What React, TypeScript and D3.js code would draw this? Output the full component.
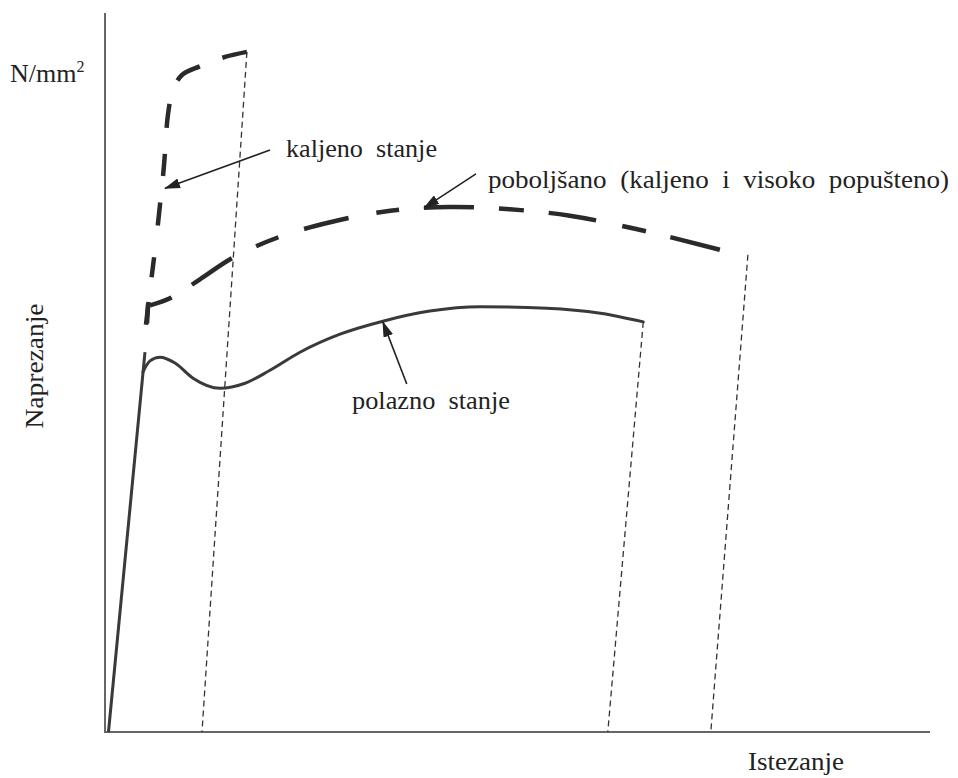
import React from "react";
import * as d3 from "d3";

// strain (0-100 relative units) and stress (0-100 relative units)
type Pt = [number, number];

const polaznoElastic: Pt[] = [[0.3, 0], [4.73, 52.6]];
const polaznoCurve: Pt[] = [
  [4.49, 49.9], [5.34, 51.4], [6.55, 51.9], [8.37, 51.1], [10.56, 49.0],
  [13.83, 47.6], [16.87, 48.3], [19.9, 50.1], [23.54, 52.6], [28.4, 55.1],
  [33.6, 56.9], [39.3, 58.3], [45.4, 58.9], [53.5, 58.7], [60.0, 58.0], [65.2, 56.8],
];
const polaznoFracture: Pt[] = [[65.2, 56.8], [60.9, 0]];

const kaljenoCurve: Pt[] = [
  [4.85, 56.4], [5.34, 61.2], [5.95, 66.8], [6.55, 73.0], [7.04, 78.5],
  [7.52, 85.5], [8.13, 88.9], [9.22, 91.0], [11.4, 92.2], [14.44, 93.5], [17.1, 94.2],
];
const kaljenoFracture: Pt[] = [[17.1, 94.2], [11.65, 0]];

const poboljsanoCurve: Pt[] = [
  [4.98, 56.6], [5.1, 59.1], [5.34, 59.1], [8.0, 60.2], [11.4, 62.7], [15.4, 65.7],
  [21.1, 68.6], [27.2, 70.6], [34.5, 72.2], [41.7, 72.7], [49.0, 72.4],
  [56.3, 71.5], [64.2, 69.7], [74.5, 66.8],
];
const poboljsanoFracture: Pt[] = [[77.9, 66.1], [73.4, 0]];

const arrowKaljeno: Pt[] = [[19.9, 80.6], [7.16, 75.3]];
const arrowPoboljsano: Pt[] = [[44.9, 77.3], [38.6, 72.6]];
const arrowPolazno: Pt[] = [[36.5, 48.2], [33.6, 56.8]];

const labels = {
  kaljeno: "kaljeno  stanje",
  poboljsano: "poboljšano  (kaljeno  i  visoko  popušteno)",
  polazno: "polazno  stanje",
  yUnit: "N/mm",
  yUnitSup: "2",
  yTitle: "Naprezanje",
  xTitle: "Istezanje",
};

const W = 958;
const H = 778;

export default function App() {
  const x = d3.scaleLinear().domain([0, 100]).range([106, 930]);
  const y = d3.scaleLinear().domain([0, 100]).range([732, 10]);

  const lin = d3.line<Pt>().x((d) => x(d[0])).y((d) => y(d[1]));
  const smooth = d3
    .line<Pt>()
    .x((d) => x(d[0]))
    .y((d) => y(d[1]))
    .curve(d3.curveCatmullRom.alpha(0.5));
  const mono = d3
    .line<Pt>()
    .x((d) => x(d[0]))
    .y((d) => y(d[1]))
    .curve(d3.curveMonotoneX);

  const ink = "#3a3a3a";
  const font = "'Liberation Serif', 'Times New Roman', serif";

  return (
    <svg
      width={W}
      height={H}
      style={{ position: "absolute", left: 0, top: 0, background: "#fff" }}
    >
      <defs>
        <marker
          id="ah"
          viewBox="0 0 16 10"
          refX="15"
          refY="5"
          markerWidth="16"
          markerHeight="10"
          markerUnits="userSpaceOnUse"
          orient="auto"
        >
          <path d="M0,0 L16,5 L0,10 Z" fill="#222" />
        </marker>
      </defs>

      {/* axes */}
      <line x1={x(0) - 1} x2={x(0) - 1} y1={13} y2={y(0) + 1} stroke="#666" strokeWidth={2} />
      <line x1={x(0) - 1} x2={x(100)} y1={y(0)} y2={y(0)} stroke="#666" strokeWidth={2.2} />

      {/* fracture lines */}
      {[polaznoFracture, kaljenoFracture, poboljsanoFracture].map((d, i) => (
        <path key={i} d={lin(d) || ""} fill="none" stroke="#333" strokeWidth={1.3} strokeDasharray="6,4" />
      ))}

      {/* polazno stanje */}
      <path d={lin(polaznoElastic) || ""} fill="none" stroke={ink} strokeWidth={3} strokeLinejoin="round" />
      <path d={mono(polaznoCurve) || ""} fill="none" stroke={ink} strokeWidth={3} strokeLinecap="round" />

      {/* kaljeno stanje */}
      <path
        d={smooth(kaljenoCurve) || ""}
        fill="none"
        stroke="#2a2a2a"
        strokeWidth={4.5}
        strokeDasharray="23,25,20,32,23,27,22,26,24,25,27,24,30"
      />

      {/* poboljsano */}
      <path
        d={lin(poboljsanoCurve.slice(0, 3)) || ""}
        fill="none"
        stroke="#2a2a2a"
        strokeWidth={4.5}
      />
      <path
        d={smooth(poboljsanoCurve.slice(2)) || ""}
        fill="none"
        stroke="#2a2a2a"
        strokeWidth={4.5}
        strokeDasharray="23,24,48,27,24,27,46,28,23,25,50,25,25,25,48,27,24,25,60"
      />

      {/* arrows */}
      {[arrowKaljeno, arrowPoboljsano, arrowPolazno].map((d, i) => (
        <path key={i} d={lin(d) || ""} fill="none" stroke="#222" strokeWidth={1.6} markerEnd="url(#ah)" />
      ))}

      {/* labels */}
      <g fontFamily={font} fill="#222" fontSize={26}>
        <text x={286} y={157} textLength={151} lengthAdjust="spacingAndGlyphs" xmlSpace="preserve">
          {labels.kaljeno}
        </text>
        <text x={488} y={188} textLength={461} lengthAdjust="spacingAndGlyphs" xmlSpace="preserve">
          {labels.poboljsano}
        </text>
        <text x={352} y={409} textLength={158} lengthAdjust="spacingAndGlyphs" xmlSpace="preserve">
          {labels.polazno}
        </text>
        <text x={10} y={82}>
          {labels.yUnit}
          <tspan dy={-10} fontSize={16}>
            {labels.yUnitSup}
          </tspan>
        </text>
        <text
          transform="translate(43,366) rotate(-90)"
          textAnchor="middle"
          textLength={125}
          lengthAdjust="spacingAndGlyphs"
        >
          {labels.yTitle}
        </text>
        <text x={748} y={770} textLength={96} lengthAdjust="spacingAndGlyphs">
          {labels.xTitle}
        </text>
      </g>
    </svg>
  );
}
